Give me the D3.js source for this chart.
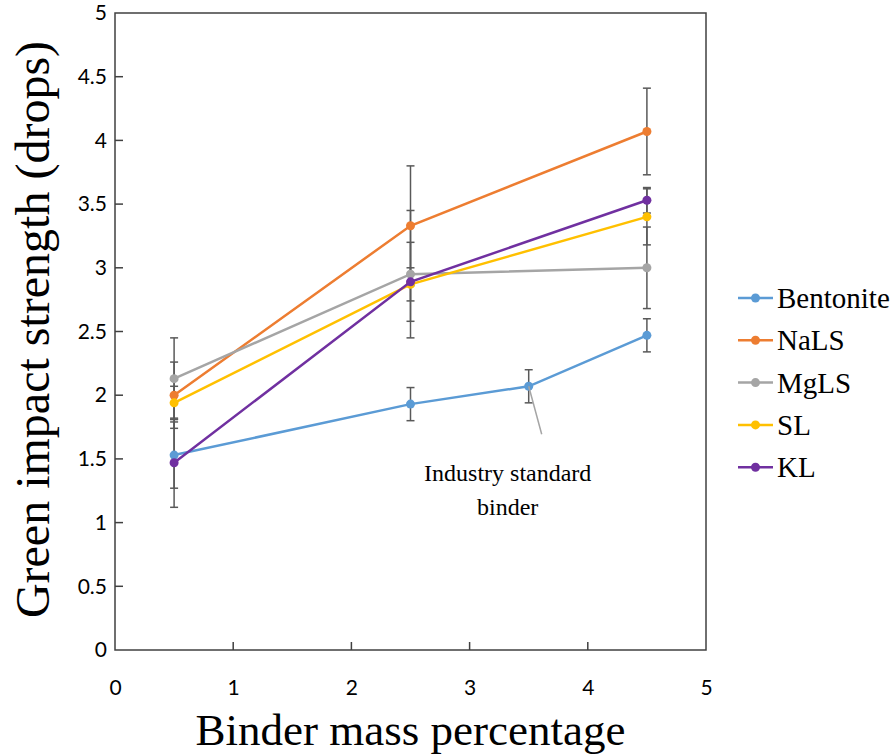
<!DOCTYPE html>
<html>
<head>
<meta charset="utf-8">
<script src="https://cdn.jsdelivr.net/npm/d3@7"></script>
<style>
  body { margin: 0; background: #fff; }
  svg { display: block; }
</style>
</head>
<body>
<svg id="chart" width="893" height="755"></svg>
<script>
// binder mass percentages and measured drops
const seriesNames = ["Bentonite", "NaLS", "MgLS", "SL", "KL"];
const seriesColors = ["#5B9BD5", "#ED7D31", "#A5A5A5", "#FFC000", "#7030A0"];

const bentoniteX = [0.5, 2.5, 3.5, 4.5];
const bentoniteY = [1.53, 1.93, 2.07, 2.47];
const bentoniteErr = [0.26, 0.13, 0.13, 0.13];

const lsX = [0.5, 2.5, 4.5];
const nalsY = [2.0, 3.33, 4.07];
const nalsErr = [0.26, 0.47, 0.34];
const mglsY = [2.13, 2.95, 3.0];
const mglsErr = [0.32, 0.5, 0.32];
const slY = [1.94, 2.87, 3.4];
const slErr = [0.13, 0.13, 0.22];
const klY = [1.47, 2.89, 3.53];
const klErr = [0.35, 0.31, 0.1];

const xTicks = [0, 1, 2, 3, 4, 5];
const yTicks = [0, 0.5, 1, 1.5, 2, 2.5, 3, 3.5, 4, 4.5, 5];

let store = {};

function buildSeries() {
    let xs = [bentoniteX, lsX, lsX, lsX, lsX];
    let ys = [bentoniteY, nalsY, mglsY, slY, klY];
    let errs = [bentoniteErr, nalsErr, mglsErr, slErr, klErr];
    store.series = seriesNames.map((name, i) => ({
        name: name,
        color: seriesColors[i],
        points: xs[i].map((x, j) => ({ x: x, y: ys[i][j], err: errs[i][j] }))
    }));
}

function getChartConfig() {
    let margin = { top: 13, right: 187, bottom: 105, left: 115 },
        width = 893 - margin.left - margin.right,
        height = 755 - margin.top - margin.bottom;

    let svg = d3.select("#chart");
    let container = svg.append("g")
        .attr("transform", "translate(" + margin.left + "," + margin.top + ")");

    return { width, height, container, margin, svg };
}

function getScales(config) {
    let xScale = d3.scaleLinear().domain([0, 5]).range([0, config.width]);
    let yScale = d3.scaleLinear().domain([0, 5]).range([config.height, 0]);
    return { xScale, yScale };
}

function drawAxes(config, scales) {
    let { container, width, height } = config;
    let { xScale, yScale } = scales;
    let axisColor = "#404040";

    container.append("rect")
        .attr("width", width)
        .attr("height", height)
        .attr("fill", "none")
        .attr("stroke", axisColor)
        .attr("stroke-width", 1.5);

    let yAxis = container.append("g")
        .call(d3.axisLeft(yScale).tickValues(yTicks).tickSize(0).tickPadding(8).tickFormat(d3.format("")));
    yAxis.select(".domain").remove();
    yAxis.selectAll("text")
        .style("font-family", "Lato, 'Open Sans', sans-serif")
        .style("font-size", "21px")
        .attr("fill", "#000");

    // ticks point inward
    container.selectAll(".ytick")
        .data(yTicks.slice(1, -1))
        .enter().append("line")
        .attr("x1", 0).attr("x2", 8)
        .attr("y1", d => yScale(d)).attr("y2", d => yScale(d))
        .attr("stroke", axisColor).attr("stroke-width", 1.5);

    let xAxis = container.append("g")
        .attr("transform", "translate(0," + height + ")")
        .call(d3.axisBottom(xScale).tickValues(xTicks).tickSize(0).tickPadding(30).tickFormat(d3.format("")));
    xAxis.select(".domain").remove();
    xAxis.selectAll("text")
        .style("font-family", "Lato, 'Open Sans', sans-serif")
        .style("font-size", "21px")
        .attr("fill", "#000");

    container.selectAll(".xtick")
        .data(xTicks.slice(1, -1))
        .enter().append("line")
        .attr("x1", d => xScale(d)).attr("x2", d => xScale(d))
        .attr("y1", height).attr("y2", height - 8)
        .attr("stroke", axisColor).attr("stroke-width", 1.5);

    container.append("text")
        .attr("x", width / 2)
        .attr("y", height + 95)
        .attr("text-anchor", "middle")
        .style("font-family", "'Liberation Serif', serif")
        .style("font-size", "45px")
        .text("Binder mass percentage");

    container.append("text")
        .attr("transform", "rotate(-90)")
        .attr("x", -height / 2 + 2)
        .attr("y", -66)
        .attr("text-anchor", "middle")
        .style("font-family", "'Liberation Serif', serif")
        .style("font-size", "48px")
        .text("Green impact strength (drops)");
}

function drawErrorBars(config, scales) {
    let { container } = config;
    let { xScale, yScale } = scales;
    let bars = [];
    store.series.forEach(s => s.points.forEach(p => bars.push(p)));

    let g = container.append("g").attr("stroke", "#595959").attr("stroke-width", 1.5);
    bars.forEach(p => {
        let x = xScale(p.x);
        g.append("line").attr("x1", x).attr("x2", x)
            .attr("y1", yScale(p.y - p.err)).attr("y2", yScale(p.y + p.err));
        [p.y - p.err, p.y + p.err].forEach(v => {
            g.append("line").attr("x1", x - 4).attr("x2", x + 4)
                .attr("y1", yScale(v)).attr("y2", yScale(v));
        });
    });
}

function drawLines(config, scales) {
    let { container } = config;
    let { xScale, yScale } = scales;
    let line = d3.line().x(d => xScale(d.x)).y(d => yScale(d.y));

    let groups = container.selectAll(".series")
        .data(store.series)
        .enter().append("g")
        .attr("class", "series");

    groups.append("path")
        .attr("d", d => line(d.points))
        .attr("fill", "none")
        .attr("stroke", d => d.color)
        .attr("stroke-width", 2.5);

    groups.each(function (s) {
        d3.select(this).selectAll("circle")
            .data(s.points)
            .enter().append("circle")
            .attr("cx", d => xScale(d.x))
            .attr("cy", d => yScale(d.y))
            .attr("r", 4.5)
            .attr("fill", s.color);
    });
}

function drawAnnotation(config, scales) {
    let { container } = config;
    let { xScale, yScale } = scales;
    let px = xScale(3.5), py = yScale(bentoniteY[2]);

    container.append("line")
        .attr("x1", px).attr("y1", py)
        .attr("x2", px + 13).attr("y2", py + 48)
        .attr("stroke", "#A5A5A5").attr("stroke-width", 1.5);

    let t = container.append("text")
        .attr("text-anchor", "middle")
        .style("font-family", "'Liberation Serif', serif")
        .style("font-size", "24px");
    t.append("tspan").attr("x", px - 21).attr("y", 468).text("Industry standard");
    t.append("tspan").attr("x", px - 21).attr("y", 502).text("binder");
}

function drawLegend(config) {
    let { svg } = config;
    let legend = svg.append("g").attr("transform", "translate(738,298)");

    let rows = legend.selectAll("g")
        .data(store.series)
        .enter().append("g")
        .attr("transform", (d, i) => "translate(0," + (i * 42.3) + ")");

    rows.append("line")
        .attr("x1", 0).attr("x2", 35)
        .attr("stroke", d => d.color).attr("stroke-width", 2.5);
    rows.append("circle")
        .attr("cx", 17.5).attr("r", 4.5)
        .attr("fill", d => d.color);
    rows.append("text")
        .attr("x", 39)
        .attr("dy", "0.35em")
        .style("font-family", "'Liberation Serif', serif")
        .style("font-size", "29px")
        .text(d => d.name);
}

function drawChart() {
    buildSeries();
    let config = getChartConfig();
    let scales = getScales(config);
    drawAxes(config, scales);
    drawErrorBars(config, scales);
    drawLines(config, scales);
    drawAnnotation(config, scales);
    drawLegend(config);
}

drawChart();
</script>
</body>
</html>
